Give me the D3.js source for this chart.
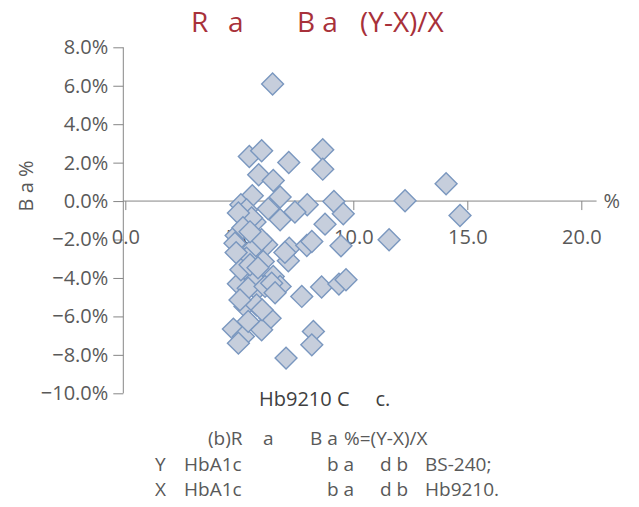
<!DOCTYPE html>
<html>
<head>
<meta charset="utf-8">
<script src="https://cdn.jsdelivr.net/npm/d3@7"></script>
<style>
  html, body { margin: 0; padding: 0; background: #fff; }
  svg { display: block; font-family: "Open Sans", "Noto Sans", sans-serif; }
</style>
</head>
<body>
<svg id="chart" width="639" height="507"></svg>
<script>
// HbA1c reference value (x) and relative bias in percent (y)
const hba1cRef = [
  6.46, 5.44, 5.98, 7.17, 8.66, 8.66, 5.85, 6.49, 14.07, 12.27,
  14.68, 11.57, 9.15, 9.56, 8.76, 9.46, 7.98, 7.44, 6.79, 5.57,
  6.27, 6.79, 5.69, 4.86, 7.19, 7.15, 7.96, 8.18, 6.20, 5.61,
  5.25, 6.05, 6.49, 4.96, 6.79, 5.76, 7.74, 8.61, 9.37, 9.68,
  5.25, 5.76, 6.35, 4.74, 5.98, 5.18, 4.96, 8.25, 8.18, 7.05,
  5.07, 5.32, 5.54, 4.96, 5.16, 4.81, 5.98, 5.32, 5.69, 5.39,
  6.13, 6.42, 5.39, 5.07, 5.47, 5.82, 6.57, 5.03, 6.00, 4.86,
  7.00, 5.47
];
const relBias = [
  6.09, 2.32, 2.62, 2.01, 2.67, 1.66, 1.37, 1.07, 0.90, 0.02,
  -0.75, -2.01, -0.02, -0.66, -1.20, -2.33, -0.19, -0.57, 0.21, 0.28,
  -0.40, -0.97, -1.09, -1.79, -2.45, -3.11, -2.31, -2.10, -2.27, -2.45,
  -3.04, -3.14, -3.92, -4.30, -4.44, -4.61, -4.96, -4.47, -4.32, -4.09,
  -5.48, -5.40, -6.09, -6.66, -6.70, -7.04, -7.39, -6.78, -7.48, -8.17,
  -0.19, -0.45, -0.88, -0.62, -1.39, -2.19, -2.01, -2.97, -4.09, -4.53,
  -4.44, -4.27, -6.26, -3.57, -3.31, -3.47, -4.77, -5.14, -5.66, -2.68,
  -2.67, -1.60
];
const xTicks = [0, 5, 10, 15, 20];
const yTicks = [8, 6, 4, 2, 0, -2, -4, -6, -8, -10];

// title split into the pieces that are spaced apart
const titleParts = [
  { x: 191, t: "R" },
  { x: 228, t: "a" },
  { x: 297, t: "B a" },
  { x: 360, t: "(Y-X)/X" }
];
const yTitle = "B a %";
const xTitle = "Hb9210 C     c.";

// caption rows, each as spaced pieces
const captionRows = [
  [{ x: 208, t: "(b)R" }, { x: 263, t: "a" }, { x: 310, t: "B a" }, { x: 344, t: "%=(Y-X)/X" }],
  [{ x: 155, t: "Y" }, { x: 184, t: "HbA1c" }, { x: 327, t: "b a" }, { x: 380, t: "d b" }, { x: 425, t: "BS-240;" }],
  [{ x: 155, t: "X" }, { x: 184, t: "HbA1c" }, { x: 327, t: "b a" }, { x: 380, t: "d b" }, { x: 425, t: "Hb9210." }]
];
const captionY = [445, 470.5, 495.5];

const svg = d3.select("#chart");
const axisColor = "#868686";
const labelColor = "#595959";

const x = d3.scaleLinear().domain([0, 20]).range([125.3, 581.3]);
const y = d3.scaleLinear().domain([-10, 8]).range([393.3, 47.3]);

// title
svg.append("text")
  .attr("y", 32)
  .attr("fill", "#a8313a")
  .attr("font-size", 28)
  .selectAll("tspan")
  .data(titleParts)
  .join("tspan")
  .attr("x", d => d.x)
  .text(d => d.t);

// y axis with ticks on the left
const yAxis = d3.axisLeft(y)
  .tickValues(yTicks)
  .tickSize(10)
  .tickPadding(5)
  .tickFormat(d => d3.format(".1f")(d) + "%");
const gy = svg.append("g")
  .attr("transform", `translate(${x(0) - 2},0)`)
  .call(yAxis);
gy.select(".domain").attr("stroke", axisColor).attr("d", `M0,${y(8)}V${y(-10)}`);
gy.selectAll(".tick line").attr("stroke", axisColor);
gy.selectAll(".tick text")
  .attr("fill", labelColor)
  .attr("font-size", 20)
  .attr("font-family", "Open Sans, sans-serif");

// x axis crossing at 0%, labels hanging below
const xAxis = d3.axisBottom(x)
  .tickValues(xTicks)
  .tickSize(9)
  .tickPadding(20)
  .tickFormat(d3.format(".1f"));
const gx = svg.append("g")
  .attr("transform", `translate(0,${y(0)})`)
  .call(xAxis);
gx.select(".domain").attr("stroke", axisColor).attr("d", `M${x(0) - 2},0H${x(20.67)}`);
gx.selectAll(".tick line").attr("stroke", axisColor);
gx.selectAll(".tick text")
  .attr("fill", labelColor)
  .attr("font-size", 20)
  .attr("font-family", "Open Sans, sans-serif");

// unit mark at the end of the x axis
svg.append("text")
  .attr("x", x(20.67) + 7).attr("y", y(0))
  .attr("dy", "0.35em")
  .attr("fill", labelColor)
  .attr("font-size", 20)
  .text("%");

// y axis title
svg.append("text")
  .attr("transform", `translate(33,186) rotate(-90)`)
  .attr("text-anchor", "middle")
  .attr("fill", labelColor)
  .attr("font-size", 20)
  .text(yTitle);

// x axis title
svg.append("text")
  .attr("x", 259).attr("y", 406)
  .attr("fill", "#404040")
  .attr("font-size", 20)
  .style("white-space", "pre")
  .text(xTitle);

// points: diamonds
const pts = hba1cRef.map((v, i) => ({ x: v, y: relBias[i] }));
const diamond = d3.symbol(d3.symbolSquare, 240);
svg.append("g").selectAll("path")
  .data(pts)
  .join("path")
  .attr("d", diamond)
  .attr("transform", d => `translate(${x(d.x)},${y(d.y)}) rotate(45)`)
  .attr("fill", "#c6cedc")
  .attr("stroke", "#7a97bf")
  .attr("stroke-width", 1.4);

// caption
const cap = svg.append("g")
  .attr("fill", labelColor)
  .attr("font-size", 19);
captionRows.forEach((row, i) => {
  cap.append("text")
    .attr("y", captionY[i])
    .selectAll("tspan")
    .data(row)
    .join("tspan")
    .attr("x", d => d.x)
    .text(d => d.t);
});
</script>
</body>
</html>
